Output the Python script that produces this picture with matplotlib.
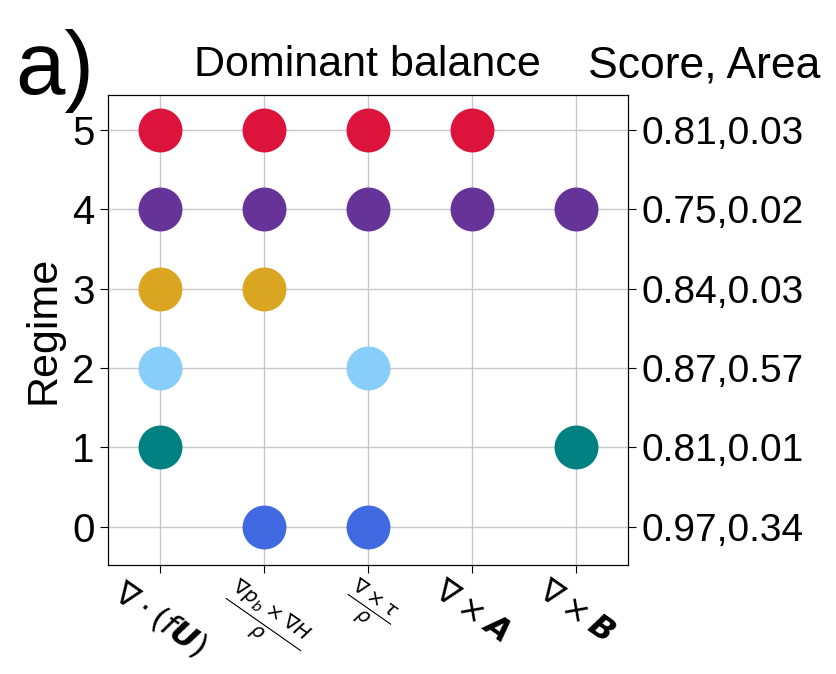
import matplotlib

matplotlib.use("Agg")
import matplotlib.pyplot as plt

plt.rcParams["font.family"] = ["Liberation Sans", "DejaVu Sans"]
plt.rcParams["mathtext.fontset"] = "dejavusans"

terms = [
    r"$\nabla\cdot(f\mathbfit{U})$",
    r"$\frac{\nabla p_b\times\nabla H}{\rho}$",
    r"$\frac{\nabla\times\tau}{\rho}$",
    r"$\nabla\times\mathbfit{A}$",
    r"$\nabla\times\mathbfit{B}$",
]
regimes = [0, 1, 2, 3, 4, 5]
# which terms are active in each regime
active = {
    0: [1, 2],
    1: [0, 4],
    2: [0, 2],
    3: [0, 1],
    4: [0, 1, 2, 3, 4],
    5: [0, 1, 2, 3],
}
colors = ["#4169E1", "#008080", "#87CEFA", "#DAA520", "#663399", "#DC143C"]
scores = ["0.97,0.34", "0.81,0.01", "0.87,0.57", "0.84,0.03", "0.75,0.02", "0.81,0.03"]

fig = plt.figure(figsize=(8.36, 6.74), dpi=100)
ax = fig.add_axes([0.129, 0.162, 0.622, 0.697])

for r in regimes:
    xs = active[r]
    ax.scatter(xs, [r] * len(xs), s=1000, color=colors[r], zorder=3, linewidths=0)

ax.set_xlim(-0.5, 4.5)
ax.set_ylim(-0.48, 5.44)
ax.set_xticks(range(len(terms)))
ax.set_xticklabels(terms, rotation=-35, ha="center", fontsize=23)
for lab in ax.get_xticklabels()[1:3]:
    lab.set_fontsize(21)
ax.set_yticks(regimes)
ax.set_yticklabels([str(r) for r in regimes])
ax.tick_params(axis="y", labelsize=29, length=6)
ax.tick_params(axis="x", length=6, pad=2)
ax.grid(True, color="#c8c8c8", linewidth=1)
ax.set_axisbelow(True)
ax.set_ylabel("Regime", fontsize=31, labelpad=6)
ax.set_title("Dominant balance", fontsize=31, pad=14)

ax2 = ax.twinx()
ax2.set_ylim(ax.get_ylim())
ax2.set_yticks(regimes)
ax2.set_yticklabels(scores)
ax2.tick_params(labelsize=28, length=6)

fig.text(0.703, 0.885, "Score, Area", fontsize=32)
fig.text(0.018, 0.86, "a)", fontsize=64)

fig.savefig("out.png", dpi=100)
